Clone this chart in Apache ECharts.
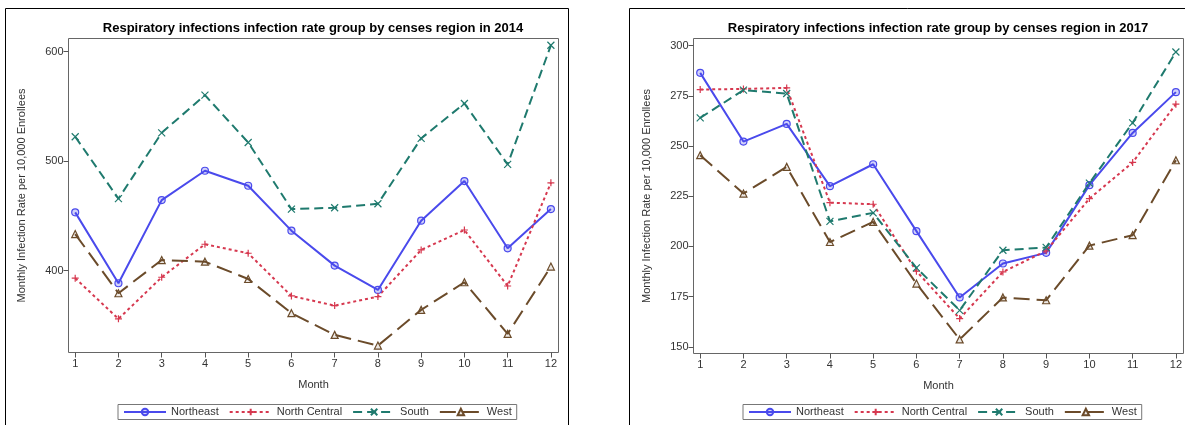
<!DOCTYPE html>
<html>
<head>
<meta charset="utf-8">
<script src="https://cdn.jsdelivr.net/npm/echarts@6/dist/echarts.min.js"></script>
<style>
  html, body { margin: 0; padding: 0; background: #fff; }
  #chart { width: 1185px; height: 425px; }
</style>
</head>
<body>
<div id="chart"></div>
<script>
// Monthly respiratory infection rate per 10,000 enrollees, by census region
const months = [1, 2, 3, 4, 5, 6, 7, 8, 9, 10, 11, 12];
const regions = ['Northeast', 'North Central', 'South', 'West'];

const northeast2014    = [453.2, 388.5, 464.4, 491.2, 477.5, 436.5, 404.6, 382.4, 445.6, 481.8, 420.4, 456.2];
const northCentral2014 = [393.1, 356.0, 394.0, 424.1, 415.9, 376.9, 368.1, 376.3, 418.9, 437.1, 386.0, 480.2];
const south2014        = [522.2, 465.7, 525.8, 560.2, 517.0, 456.2, 457.4, 461.1, 520.7, 552.6, 497.0, 605.7];
const west2014         = [433.4, 379.4, 409.7, 408.2, 392.4, 361.2, 341.4, 331.6, 364.2, 389.4, 342.3, 403.7];

const northeast2017    = [286.4, 252.2, 261.0, 230.0, 240.9, 207.6, 174.6, 191.5, 196.8, 230.5, 256.5, 276.8];
const northCentral2017 = [278.1, 278.4, 278.9, 221.8, 221.0, 187.7, 164.1, 187.3, 197.8, 223.8, 241.8, 270.8];
const south2017        = [264.0, 277.8, 276.1, 212.5, 216.7, 189.3, 168.2, 198.1, 199.5, 231.5, 261.5, 296.8];
const west2017         = [245.4, 226.3, 239.6, 202.2, 212.2, 181.5, 153.7, 174.6, 173.2, 200.4, 205.6, 242.9];

const yTicks2014 = [400, 500, 600];
const yTicks2017 = [150, 175, 200, 225, 250, 275, 300];

const FONT = "'Liberation Sans', Arial, sans-serif";

// Per-region line and marker styling
const styles = {
  'Northeast': {
    color: '#4a4aec', dash: 'solid', symbol: 'circle', size: 7,
    fill: 'rgba(74,74,236,0.25)'
  },
  'North Central': {
    color: '#d6384f', dash: [3, 3], symbol: 'path://M5,0L5,10M0,5L10,5', size: 7,
    fill: 'rgba(0,0,0,0)'
  },
  'South': {
    color: '#1f7a6e', dash: [9, 5], symbol: 'path://M0,0L10,10M10,0L0,10', size: 7,
    fill: 'rgba(0,0,0,0)'
  },
  'West': {
    color: '#6b4b2a', dash: [16, 7], symbol: 'triangle', size: 7,
    fill: 'rgba(107,75,42,0.12)'
  }
};

function pairs(values) {
  return months.map((m, i) => [m, values[i]]);
}

function makeSeries(name, values, axisIndex) {
  const s = styles[name];
  return {
    name: name,
    type: 'line',
    xAxisIndex: axisIndex,
    yAxisIndex: axisIndex,
    data: pairs(values),
    symbol: s.symbol,
    symbolSize: s.size,
    showAllSymbol: true,
    lineStyle: { color: s.color, width: 2, type: s.dash },
    itemStyle: { color: s.fill, borderColor: s.color, borderWidth: 1.2 },
    emphasis: { disabled: true },
    z: 3
  };
}

function xAxis(gridIndex) {
  return {
    type: 'value',
    gridIndex: gridIndex,
    min: 0.845,
    max: 12.176,
    name: 'Month',
    nameLocation: 'middle',
    nameGap: 27,
    nameTextStyle: { fontFamily: FONT, fontSize: 11, color: '#333' },
    axisLine: { show: false },
    axisTick: { show: true, length: 5, customValues: months, lineStyle: { color: '#555' } },
    axisLabel: { customValues: months, fontFamily: FONT, fontSize: 11, color: '#333', margin: 6 },
    splitLine: { show: false }
  };
}

function yAxis(gridIndex, min, max, ticks) {
  return {
    type: 'value',
    gridIndex: gridIndex,
    min: min,
    max: max,
    name: 'Monthly Infection Rate per 10,000 Enrollees',
    nameLocation: 'middle',
    nameGap: 41,
    nameTextStyle: { fontFamily: FONT, fontSize: 11, color: '#333' },
    axisLine: { show: false },
    axisTick: { show: true, length: 5, customValues: ticks, lineStyle: { color: '#555' } },
    axisLabel: { customValues: ticks, fontFamily: FONT, fontSize: 11, color: '#333', margin: 5 },
    splitLine: { show: false }
  };
}

function legend(left) {
  return {
    data: regions,
    left: left,
    top: 404.5,
    orient: 'horizontal',
    itemWidth: 42,
    itemHeight: 8,
    itemGap: 10,
    padding: [2, 5],
    borderColor: '#777',
    borderWidth: 1,
    selectedMode: false,
    textStyle: { fontFamily: FONT, fontSize: 11, color: '#333' }
  };
}

const chart = echarts.init(document.getElementById('chart'), null, { renderer: 'canvas' });

chart.setOption({
  animation: false,
  backgroundColor: '#fff',
  title: [
    {
      text: 'Respiratory infections infection rate group by censes region in 2014',
      left: 308, top: 17, textAlign: 'center',
      textStyle: { fontFamily: FONT, fontSize: 13, fontWeight: 'bold', color: '#000' }
    },
    {
      text: 'Respiratory infections infection rate group by censes region in 2017',
      left: 933, top: 17, textAlign: 'center',
      textStyle: { fontFamily: FONT, fontSize: 13, fontWeight: 'bold', color: '#000' }
    }
  ],
  grid: [
    { left: 68.5, top: 38.5, width: 490, height: 314, show: true, borderColor: '#666', borderWidth: 1, backgroundColor: 'transparent' },
    { left: 693.5, top: 38.5, width: 493, height: 315, show: true, borderColor: '#666', borderWidth: 1, backgroundColor: 'transparent' }
  ],
  xAxis: [xAxis(0), xAxis(1)],
  yAxis: [
    yAxis(0, 325.3, 611.9, yTicks2014),
    yAxis(1, 146.7, 303.5, yTicks2017)
  ],
  legend: [legend(118), legend(743)],
  graphic: [
    { type: 'rect', shape: { x: 5.5, y: 8.5, width: 563, height: 440 }, style: { fill: 'none', stroke: '#000', lineWidth: 1 }, silent: true },
    { type: 'rect', shape: { x: 629.5, y: 8.5, width: 600, height: 440 }, style: { fill: 'none', stroke: '#000', lineWidth: 1 }, silent: true }
  ],
  series: [
    makeSeries('Northeast', northeast2014, 0),
    makeSeries('North Central', northCentral2014, 0),
    makeSeries('South', south2014, 0),
    makeSeries('West', west2014, 0),
    makeSeries('Northeast', northeast2017, 1),
    makeSeries('North Central', northCentral2017, 1),
    makeSeries('South', south2017, 1),
    makeSeries('West', west2017, 1)
  ]
});
</script>
</body>
</html>
